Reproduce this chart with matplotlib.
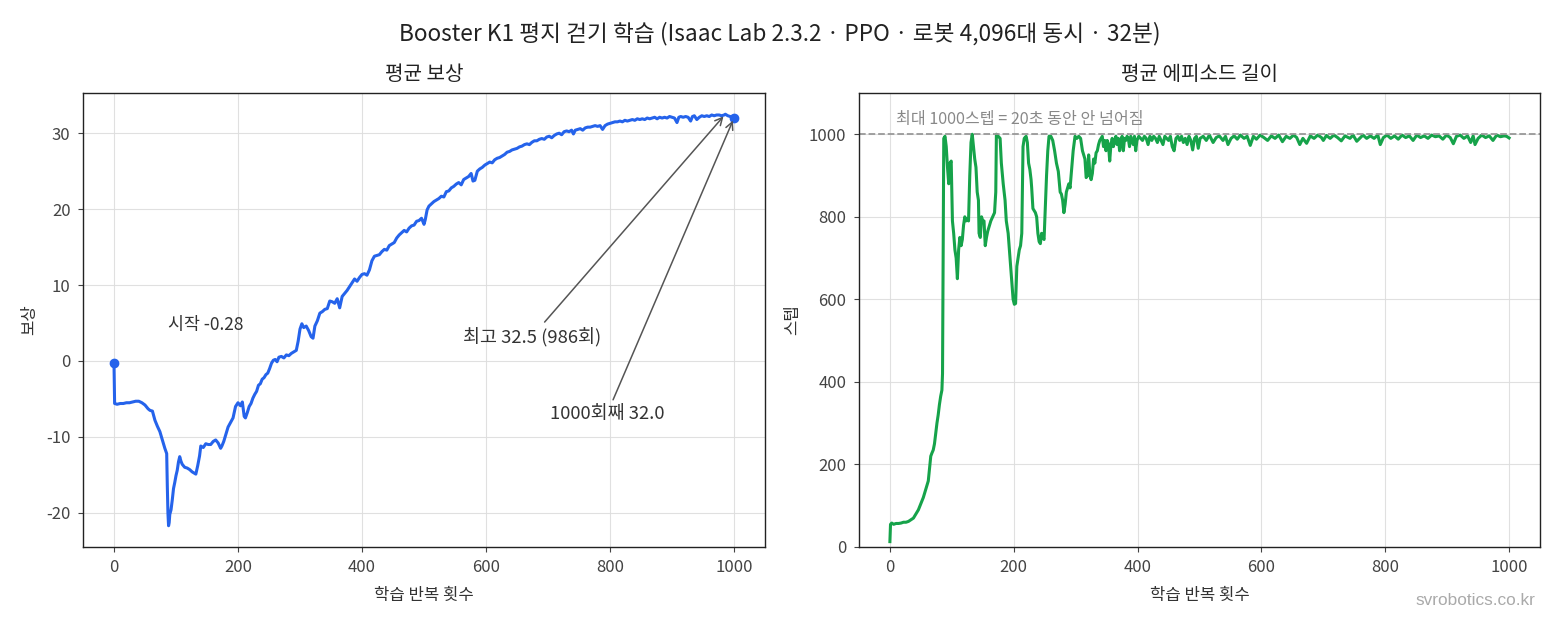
import matplotlib
matplotlib.use("Agg")
import matplotlib.pyplot as plt

plt.rcParams['font.family'] = ['Noto Sans CJK KR', 'DejaVu Sans']
plt.rcParams['axes.unicode_minus'] = False

# ---------------- data ----------------
reward_iter = [0, 1, 5, 10, 15, 20, 25, 30, 35, 40, 45, 50, 55, 58, 62, 66, 70, 74, 78, 82, 85,
               86, 87, 88, 89, 90, 92, 94, 96, 98, 100, 102, 104, 106, 108, 110, 114, 118, 122, 126,
               130, 132, 135, 138, 140, 144, 148, 152, 156, 160, 164, 168, 172, 174, 177, 180, 184,
               188, 192, 196, 200, 204, 207, 210, 212, 215, 218, 221, 224, 227, 230, 233, 236, 239,
               242, 245, 248, 251, 254, 257, 260, 263, 266, 270, 274, 278, 282, 286, 290, 294, 297,
               300, 303, 306, 310, 314, 318, 321, 324, 328, 332, 336, 340, 344, 348, 352, 356, 360,
               364, 368, 372, 376, 380, 384, 388, 392, 396, 400, 404, 408, 412, 416, 420, 424, 428,
               432, 436, 440, 444, 448, 452, 456, 460, 464, 468, 472, 476, 480, 484, 488, 492, 496,
               500, 502, 505, 508, 512, 516, 520, 524, 528, 532, 536, 540, 544, 548, 552, 556, 560,
               564, 568, 572, 576, 579, 582, 586, 590, 594, 598, 602, 606, 610, 614, 618, 622, 626,
               630, 634, 638, 642, 646, 650, 654, 658, 662, 666, 670, 674, 678, 682, 686, 690, 694,
               698, 702, 706, 710, 714, 718, 722, 726, 730, 734, 738, 741, 744, 748, 752, 756, 760,
               764, 768, 772, 776, 780, 784, 788, 792, 796, 800, 804, 808, 812, 816, 820, 824, 828,
               832, 836, 840, 844, 848, 852, 856, 860, 864, 868, 872, 876, 880, 884, 888, 892, 896,
               900, 904, 908, 911, 914, 918, 922, 926, 930, 933, 936, 940, 944, 948, 952, 956, 960,
               964, 968, 972, 976, 980, 984, 986, 990, 994, 997, 1000]
reward_vals = [-0.28, -5.6, -5.7, -5.6, -5.6, -5.5, -5.5, -5.4, -5.3, -5.3, -5.5, -5.8, -6.3, -6.5,
               -6.6, -7.8, -8.6, -9.3, -10.4, -11.5, -12.2,
               -16.5, -20.0, -21.7, -21.3, -20.2, -19.6, -18.3, -16.8, -16.0, -15.1, -14.4, -13.3,
               -12.6, -13.2, -13.6, -14.0, -14.1, -14.3, -14.6,
               -14.8, -14.9, -13.8, -12.5, -11.2, -11.4, -10.9, -11.0, -11.0, -10.6, -10.4, -10.8,
               -11.5, -11.2, -10.6, -9.8, -8.7,
               -8.1, -7.5, -6.0, -5.5, -5.9, -5.4, -7.3, -7.5, -6.8, -6.0, -5.6, -4.9, -4.4, -4.0,
               -3.2, -3.0, -2.4,
               -2.2, -1.8, -1.6, -1.0, -0.3, 0.1, 0.2, -0.1, 0.5, 0.6, 0.4, 0.8, 0.7, 1.0, 1.2, 1.4,
               2.6,
               4.2, 4.9, 4.4, 4.6, 4.0, 3.2, 3.0, 4.6, 5.3, 6.3, 6.5, 6.8, 6.9, 7.9, 7.8, 7.6, 8.2,
               7.0, 8.5, 8.9, 9.3, 9.8, 10.3, 10.8, 10.5, 11.0, 11.4, 11.5, 11.3, 12.0, 13.2, 13.8,
               13.9, 14.0,
               14.4, 14.7, 14.6, 15.2, 15.4, 15.6, 16.2, 16.6, 16.9, 17.2, 17.0, 17.5, 17.8, 17.9,
               18.4, 18.5, 18.8,
               18.0, 18.6, 19.9, 20.4, 20.7, 21.0, 21.2, 21.4, 21.7, 21.6, 22.3, 22.4, 22.8, 23.0,
               23.3, 23.5, 23.2,
               23.9, 24.1, 24.3, 24.7, 23.7, 23.8, 25.0, 25.3, 25.5, 25.8, 26.0, 26.2, 26.1, 26.5,
               26.7, 26.8, 27.0,
               27.2, 27.5, 27.6, 27.8, 27.9, 28.0, 28.2, 28.3, 28.5, 28.6, 28.5, 28.8, 29.0, 29.0,
               29.2, 29.3, 29.2,
               29.5, 29.6, 29.4, 29.7, 29.9, 30.0, 29.8, 30.2, 30.3, 30.2, 30.4, 29.9, 30.4, 30.5,
               30.6, 30.4, 30.7,
               30.8, 30.8, 30.9, 31.0, 30.9, 31.0, 30.5, 31.0, 31.2, 31.3, 31.4, 31.5, 31.5, 31.6,
               31.5, 31.7, 31.6,
               31.7, 31.8, 31.7, 31.9, 31.8, 31.9, 31.8, 32.0, 31.9, 32.0, 32.1, 31.9, 32.1, 32.0,
               32.1, 32.0, 32.2,
               32.1, 32.0, 31.4, 32.1, 32.2, 32.1, 32.2, 32.1, 31.6, 32.2, 32.3, 31.8, 32.1, 32.3,
               32.2, 32.3, 32.2,
               32.4, 32.3, 32.4, 32.4, 32.3, 32.4, 32.5, 32.3, 32.2, 32.1, 32.0]

# (iteration, mean episode length) pairs
ep_points = [
    (0, 13), (1, 55), (3, 58), (6, 55), (10, 57), (14, 57), (18, 58), (22, 60), (26, 60),
    (30, 62), (34, 66), (38, 70), (42, 80), (46, 90), (50, 105), (54, 120), (58, 140),
    (60, 150), (62, 160), (64, 190), (66, 220), (68, 228), (70, 235), (72, 250), (74, 275),
    (76, 300), (78, 320), (80, 345), (82, 365), (84, 380), (85, 420), (86, 700), (87, 990),
    (89, 995), (91, 970), (93, 920), (95, 880), (97, 930), (99, 935), (100, 860), (101, 790),
    (103, 760), (105, 720), (107, 700), (109, 650), (111, 720), (113, 750), (115, 730),
    (117, 745), (119, 780), (121, 800), (123, 790), (125, 795), (127, 790), (129, 900),
    (131, 980), (133, 1000), (135, 970), (137, 940), (139, 920), (141, 860), (143, 840),
    (144, 760), (146, 750), (148, 800), (150, 790), (152, 790), (154, 730), (156, 750),
    (158, 765), (160, 775), (163, 790), (166, 800), (169, 810), (171, 860), (172, 1000),
    (175, 995), (178, 990), (180, 930), (183, 880), (186, 840), (188, 790), (191, 760),
    (194, 700), (197, 640), (199, 600), (201, 588), (203, 590), (205, 680), (207, 700),
    (209, 720), (211, 730), (213, 760), (215, 970), (217, 990), (220, 995), (222, 980),
    (224, 930), (226, 915), (228, 890), (229, 870), (231, 820), (233, 815), (235, 810),
    (237, 800), (239, 760), (241, 740), (243, 735), (245, 760), (247, 750), (249, 745),
    (251, 820), (253, 900), (255, 960), (257, 995), (260, 995), (263, 985), (266, 960),
    (269, 930), (272, 910), (275, 860), (277, 855), (279, 840), (281, 810), (283, 830),
    (285, 860), (287, 870), (289, 880), (291, 870), (293, 905), (296, 960), (299, 995),
    (302, 990), (305, 995), (308, 990), (311, 960), (313, 950), (315, 940), (317, 895),
    (319, 900), (321, 950), (323, 900), (325, 890), (327, 905), (329, 940), (331, 930),
    (333, 955), (335, 960), (337, 975), (339, 985), (341, 990), (343, 995), (345, 970),
    (347, 985), (349, 960), (351, 985), (353, 975), (355, 935), (357, 975), (359, 990),
    (361, 970), (363, 985), (365, 995), (367, 975), (369, 990), (371, 960), (373, 980),
    (375, 995), (377, 960), (379, 990), (381, 985), (383, 995), (385, 990), (387, 970),
    (389, 995), (391, 985), (393, 975), (395, 995), (397, 960), (399, 985), (402, 995),
    (405, 990), (408, 985), (411, 995), (414, 990), (417, 975), (420, 995), (423, 985),
    (426, 995), (429, 990), (432, 980), (435, 995), (438, 985), (441, 975), (444, 995),
    (447, 990), (450, 985), (453, 995), (456, 970), (459, 960), (462, 990), (465, 995),
    (468, 985), (471, 995), (474, 980), (477, 990), (480, 975), (483, 995), (486, 985),
    (489, 962), (492, 990), (495, 995), (498, 966), (501, 990), (506, 995), (511, 985),
    (516, 998), (522, 980), (527, 992), (532, 996), (538, 985), (542, 995), (546, 975),
    (551, 990), (556, 996), (561, 988), (566, 998), (572, 990), (577, 995), (582, 973),
    (587, 995), (592, 988), (598, 998), (604, 992), (610, 985), (616, 996), (622, 990),
    (628, 998), (634, 982), (640, 995), (646, 990), (652, 998), (657, 992), (662, 975),
    (667, 990), (673, 978), (679, 996), (685, 990), (691, 998), (697, 992), (700, 985),
    (705, 997), (711, 990), (717, 998), (723, 992), (729, 984), (735, 996), (743, 990),
    (748, 998), (754, 983), (760, 992), (764, 998), (770, 990), (776, 996), (782, 990),
    (788, 998), (792, 975), (797, 992), (803, 998), (809, 990), (815, 996), (821, 988),
    (827, 998), (833, 992), (839, 996), (845, 985), (851, 998), (857, 992), (863, 996),
    (869, 990), (875, 998), (881, 994), (887, 996), (893, 988), (899, 998), (905, 992),
    (910, 977), (915, 995), (921, 998), (927, 990), (933, 996), (938, 980), (942, 996),
    (945, 975), (950, 990), (956, 998), (962, 992), (968, 996), (974, 985), (980, 998),
    (986, 994), (992, 996), (996, 995), (1000, 991),
]
ep_iter = [p[0] for p in ep_points]
ep_vals = [p[1] for p in ep_points]

reward_start = (0, -0.28)
reward_best = (986, 32.5)
reward_last = (1000, 32.0)
max_steps = 1000

# ---------------- figure ----------------
fig = plt.figure(figsize=(15.6, 6.24), dpi=100)
ax1 = fig.add_axes([0.0532, 0.1234, 0.4372, 0.7276])
ax2 = fig.add_axes([0.5506, 0.1234, 0.4366, 0.7276])

blue = '#2563eb'
green = '#16a34a'
txt = '#333333'

for ax in (ax1, ax2):
    ax.grid(True, color='#dddddd', linewidth=0.8, alpha=0.9)
    ax.set_axisbelow(True)
    ax.tick_params(labelsize=12, colors='#444444', labelcolor='#444444', pad=5.5)
    for s in ax.spines.values():
        s.set_color('#222222')
        s.set_linewidth(1.0)

ax1.plot(reward_iter, reward_vals, color=blue, lw=2.2)
ax1.plot([reward_start[0]], [reward_start[1]], 'o', color=blue, ms=6)
ax1.plot([reward_last[0]], [reward_last[1]], 'o', color=blue, ms=6)
ax1.set_title('평균 보상', fontsize=14.5, color='#222222', pad=9)
ax1.set_xlabel('학습 반복 횟수', fontsize=12, color=txt, labelpad=7.5)
ax1.set_ylabel('보상', fontsize=12, color=txt, labelpad=5.5)
ax1.set_xlim(-50, 1050)
ax1.set_ylim(-24.5, 35.3)
ax1.set_xticks([0, 200, 400, 600, 800, 1000])
ax1.set_yticks([-20, -10, 0, 10, 20, 30])

ax1.text(148, 4.8, f'시작 {reward_start[1]:.2f}', ha='center', va='center',
         fontsize=12.5, color=txt)
ax1.annotate(f'최고 {reward_best[1]:.1f} ({reward_best[0]}회)', xy=reward_best,
             xytext=(674, 3.2), ha='center', va='center', fontsize=13.3, color=txt,
             arrowprops=dict(arrowstyle='->', color='#555555', lw=1.1))
ax1.annotate(f'{reward_last[0]}회째 {reward_last[1]:.1f}', xy=reward_last,
             xytext=(795, -7.0), ha='center', va='center', fontsize=13.3, color=txt,
             arrowprops=dict(arrowstyle='->', color='#555555', lw=1.1))

ax2.plot(ep_iter, ep_vals, color=green, lw=2.2)
ax2.axhline(max_steps, color='#999999', lw=1.3, ls='--')
ax2.text(10, 1036, '최대 1000스텝 = 20초 동안 안 넘어짐', fontsize=11.6, color='#888888',
         ha='left', va='center')
ax2.set_title('평균 에피소드 길이', fontsize=14.5, color='#222222', pad=9)
ax2.set_xlabel('학습 반복 횟수', fontsize=12, color=txt, labelpad=7.5)
ax2.set_ylabel('스텝', fontsize=12, color=txt, labelpad=5.5)
ax2.set_xlim(-50, 1050)
ax2.set_ylim(0, 1100)
ax2.set_xticks([0, 200, 400, 600, 800, 1000])
ax2.set_yticks([0, 200, 400, 600, 800, 1000])

fig.suptitle('Booster K1 평지 걷기 학습 (Isaac Lab 2.3.2 · PPO · 로봇 4,096대 동시 · 32분)',
             fontsize=16.3, color='#222222', y=0.965)
fig.text(0.984, 0.037, 'svrobotics.co.kr', ha='right', va='center', fontsize=12.4,
         color='#aaaaaa', family='Liberation Sans')

fig.savefig('out.png', dpi=100)
